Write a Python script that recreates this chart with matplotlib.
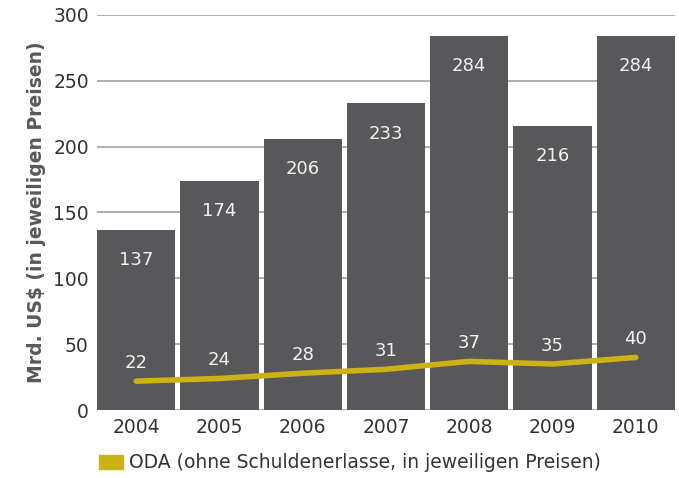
import matplotlib.pyplot as plt
from matplotlib.patches import Patch

years = ['2004', '2005', '2006', '2007', '2008', '2009', '2010']
totals = [137, 174, 206, 233, 284, 216, 284]
oda = [22, 24, 28, 31, 37, 35, 40]

bar_col = '#58585a'
line_col = '#cdb216'

plt.rcParams['font.family'] = ['DejaVu Sans']

fig = plt.figure(figsize=(6.79, 4.78), dpi=100)
ax = fig.add_axes([0.143, 0.142, 0.851, 0.827])

x = list(range(len(years)))
ax.bar(x, totals, width=0.94, color=bar_col, zorder=2)
ax.plot(x, oda, color=line_col, lw=4, solid_capstyle='round', zorder=3)

for i, v in enumerate(totals):
    ax.annotate(str(v), (i, v), xytext=(0, -22), textcoords='offset points',
                ha='center', va='center', color='#f2f2f2', fontsize=13)
for i, v in enumerate(oda):
    ax.annotate(str(v), (i, v), xytext=(0, 13), textcoords='offset points',
                ha='center', va='center', color='#f2f2f2', fontsize=13)

ax.set_xlim(-0.47, 6.47)
ax.set_ylim(0, 300)
ax.set_yticks(range(0, 301, 50))
ax.set_xticks(x)
ax.set_xticklabels(years)
ax.grid(axis='y', color='#a8a8a8', lw=1.3, zorder=1)
ax.set_axisbelow(True)
for s in ax.spines.values():
    s.set_visible(False)
ax.tick_params(length=0, labelsize=13.5, colors='#333333', pad=6)
ax.set_ylabel('Mrd. US$ (in jeweiligen Preisen)', fontsize=13.5, fontweight='bold',
              color='#58585a', labelpad=5)

ax.legend(handles=[Patch(color=line_col, label='ODA (ohne Schuldenerlasse, in jeweiligen Preisen)')],
          loc='upper left', bbox_to_anchor=(-0.01, -0.09), frameon=False, fontsize=13.5,
          handlelength=1.3, handleheight=0.8, handletextpad=0.3, borderaxespad=0,
          labelcolor='#333333')

fig.savefig('out.png', dpi=100)
